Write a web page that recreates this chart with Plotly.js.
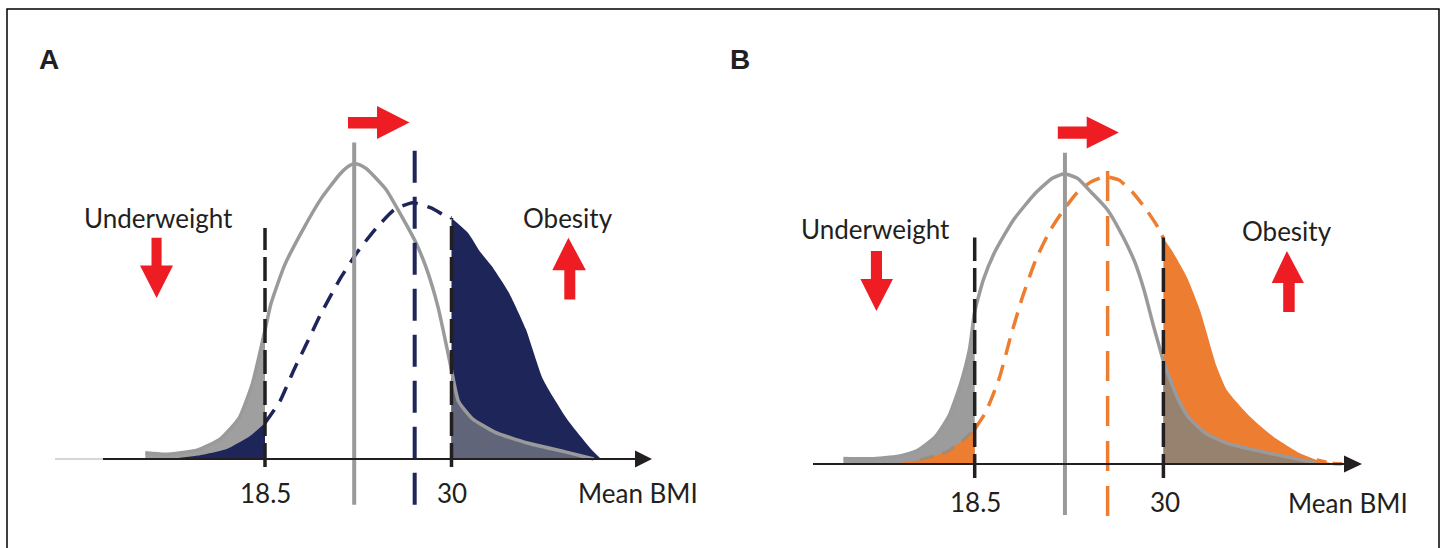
<!DOCTYPE html>
<html>
<head>
<meta charset="utf-8">
<script src="https://cdn.plot.ly/plotly-3.0.1.min.js"></script>
<style>html,body{margin:0;padding:0;background:#fff;}#chart{width:1444px;height:548px;}</style>
</head>
<body>
<div id="chart"></div>
<script>
// ---------- DATA ----------
// Panel A: baseline distribution (grey) and shifted distribution (navy)
const greyA_bmi = [11.12, 12.35, 14.32, 15.73, 16.90, 17.73, 18.5, 18.87, 19.71, 20.84, 21.94, 23.11, 23.55, 23.94, 24.35, 24.77, 25.94, 27.05, 27.75, 28.46, 29.17, 29.73, 30.0, 30.43, 31.29, 32.70, 34.67, 36.95, 38.77];
const greyA_den = [0.021, 0.016, 0.030, 0.067, 0.138, 0.256, 0.435, 0.525, 0.655, 0.775, 0.878, 0.962, 0.985, 0.997, 0.994, 0.980, 0.912, 0.808, 0.737, 0.643, 0.513, 0.372, 0.300, 0.195, 0.136, 0.090, 0.054, 0.025, 0.0];
const navyA_bmi = [11.86, 12.84, 14.50, 16.14, 17.58, 18.5, 19.42, 20.28, 21.12, 21.94, 23.11, 24.22, 25.36, 26.49, 27.60, 28.74, 29.73, 30.0, 31.01, 31.75, 32.49, 33.54, 34.59, 35.64, 37.12, 38.60, 39.22];
const navyA_den = [0.0, 0.002, 0.013, 0.034, 0.078, 0.122, 0.195, 0.301, 0.396, 0.490, 0.607, 0.701, 0.780, 0.843, 0.866, 0.848, 0.818, 0.814, 0.764, 0.701, 0.651, 0.562, 0.438, 0.269, 0.135, 0.034, 0.0];
// Panel B: baseline distribution (grey) and shifted distribution (orange)
const greyB_bmi = [10.50, 12.17, 13.86, 14.97, 16.09, 16.93, 17.63, 18.18, 18.5, 19.03, 19.73, 20.85, 22.25, 23.23, 23.95, 24.76, 25.60, 26.59, 27.56, 28.26, 28.82, 29.38, 29.80, 30.0, 30.78, 31.48, 32.60, 34.00, 36.80, 39.32];
const greyB_den = [0.019, 0.018, 0.027, 0.045, 0.093, 0.165, 0.274, 0.394, 0.525, 0.635, 0.731, 0.840, 0.936, 0.984, 1.0, 0.984, 0.936, 0.876, 0.780, 0.695, 0.599, 0.479, 0.394, 0.355, 0.238, 0.165, 0.105, 0.069, 0.033, 0.003];
const orangeB_bmi = [11.92, 13.34, 15.17, 16.79, 17.80, 18.5, 19.17, 20.01, 20.71, 21.41, 22.25, 23.09, 23.93, 24.76, 25.60, 26.45, 27.29, 28.12, 28.96, 29.66, 30.0, 30.50, 31.42, 32.23, 33.25, 33.86, 35.28, 36.70, 38.32, 39.34, 40.35, 42.08];
const orangeB_den = [0.0, 0.0, 0.014, 0.042, 0.083, 0.12, 0.178, 0.298, 0.443, 0.575, 0.707, 0.804, 0.876, 0.936, 0.972, 0.990, 0.978, 0.936, 0.876, 0.816, 0.778, 0.737, 0.645, 0.530, 0.335, 0.255, 0.163, 0.094, 0.037, 0.014, 0.002, 0.0];
// cut-offs and means
const cutoffs = [18.5, 30];
const cutoffLabels = ['18.5', '30'];
const meansA = [24.0, 27.73];   // [original mean, shifted mean]
const meansB = [24.0, 26.6];
const axisLabel = 'Mean BMI';
const panelLabels = ['A', 'B'];
const riskLabels = ['Underweight', 'Obesity'];

// ---------- helpers ----------
function part(xs, ys, lo, hi) {
  const x = [], y = [];
  xs.forEach((v, i) => { if (v >= lo && v <= hi) { x.push(v); y.push(ys[i]); } });
  return {x, y};
}
const W = 1444, H = 548;
const P = (x, y) => (x / W).toFixed(5) + ',' + (1 - y / H).toFixed(5);
function poly(pts) { return 'M' + pts.map(p => P(p[0], p[1])).join('L') + 'Z'; }

const NAVY = '#1e2559', ORANGE = '#ed7d31', GREY = '#9a9a9a', RED = '#ee1d23', INK = '#231f20';

function fillTrace(d, color, xa, ya) {
  return {x: d.x, y: d.y, xaxis: xa, yaxis: ya, type: 'scatter', mode: 'lines',
    fill: 'tozeroy', fillcolor: color, line: {width: 0, color: color, shape: 'spline', smoothing: 0.5}, hoverinfo: 'skip'};
}
function lineTrace(d, color, width, dash, xa, ya) {
  return {x: d.x, y: d.y, xaxis: xa, yaxis: ya, type: 'scatter', mode: 'lines',
    line: {width: width, color: color, dash: dash, shape: 'spline', smoothing: 0.5}, hoverinfo: 'skip'};
}

const lo = cutoffs[0], hi = cutoffs[1];
const traces = [
  // Panel A
  fillTrace(part(greyA_bmi, greyA_den, -1, lo), '#9f9f9f', 'x', 'y'),
  fillTrace(part(navyA_bmi, navyA_den, -1, lo), NAVY, 'x', 'y'),
  fillTrace(part(navyA_bmi, navyA_den, hi, 99), NAVY, 'x', 'y'),
  fillTrace(part(greyA_bmi, greyA_den, hi, 99), '#606579', 'x', 'y'),
  lineTrace(part(navyA_bmi, navyA_den, lo, hi), NAVY, 3.5, '16px,10px', 'x', 'y'),
  lineTrace(part(greyA_bmi, greyA_den, -1, 99), GREY, 3.5, 'solid', 'x', 'y'),
  // Panel B
  fillTrace(part(greyB_bmi, greyB_den, -1, lo), '#9c9c9c', 'x2', 'y2'),
  fillTrace(part(orangeB_bmi, orangeB_den, -1, lo), ORANGE, 'x2', 'y2'),
  lineTrace(part(orangeB_bmi, orangeB_den, 15, lo), 'rgba(160,138,118,0.9)', 3, '14px,9px', 'x2', 'y2'),
  fillTrace(part(orangeB_bmi, orangeB_den, hi, 40.4), ORANGE, 'x2', 'y2'),
  fillTrace(part(greyB_bmi, greyB_den, hi, 99), '#97826f', 'x2', 'y2'),
  lineTrace(part(orangeB_bmi, orangeB_den, lo, hi), ORANGE, 3.5, '17px,10px', 'x2', 'y2'),
  lineTrace(part(orangeB_bmi, orangeB_den, 39.3, 99), ORANGE, 3.5, '10px,6px', 'x2', 'y2'),
  lineTrace(part(greyB_bmi, greyB_den, -1, 99), GREY, 3.5, 'solid', 'x2', 'y2')
];

// ---------- shapes ----------
const shapes = [];
function vline(xa, ya, x, y0, y1, color, width, dash) {
  shapes.push({type: 'line', xref: xa, yref: ya, x0: x, x1: x, y0: y0, y1: y1, layer: 'above',
    line: {color: color, width: width, dash: dash}});
}
// Panel A verticals
vline('x', 'y', meansA[0], -0.155, 1.069, '#9a9a9a', 4, 'solid');
vline('x', 'y', meansA[1], -0.155, 1.041, NAVY, 4, '32px,14px');
vline('x', 'y', cutoffs[0], -0.027, 0.780, INK, 3.5, '24px,7px');
vline('x', 'y', cutoffs[1], -0.027, 0.814, INK, 3.5, '24px,7px');
// Panel B verticals
vline('x2', 'y2', meansB[0], -0.176, 1.072, '#9a9a9a', 4, 'solid');
vline('x2', 'y2', meansB[1], -0.179, 1.041, ORANGE, 3.5, '30px,15px');
vline('x2', 'y2', cutoffs[0], -0.048, 0.780, INK, 3.5, '24px,7px');
vline('x2', 'y2', cutoffs[1], -0.048, 0.780, INK, 3.5, '24px,7px');

// x axes with arrow heads (paper coords)
shapes.push({type: 'line', xref: 'paper', yref: 'paper', x0: 55 / W, x1: 103 / W, y0: 1 - 459 / H, y1: 1 - 459 / H, layer: 'above', line: {color: '#c8c8c8', width: 1.5}});
shapes.push({type: 'line', xref: 'paper', yref: 'paper', x0: 103 / W, x1: 637 / W, y0: 1 - 459 / H, y1: 1 - 459 / H, layer: 'above', line: {color: INK, width: 2}});
shapes.push({type: 'path', xref: 'paper', yref: 'paper', layer: 'above', path: poly([[635, 450.5], [652, 459], [635, 467.5]]), fillcolor: INK, line: {width: 0}});
shapes.push({type: 'line', xref: 'paper', yref: 'paper', x0: 813 / W, x1: 1345 / W, y0: 1 - 464 / H, y1: 1 - 464 / H, layer: 'above', line: {color: INK, width: 2}});
shapes.push({type: 'path', xref: 'paper', yref: 'paper', layer: 'above', path: poly([[1344, 455.4], [1362, 464], [1344, 472.6]]), fillcolor: INK, line: {width: 0}});

// red arrows
function redArrow(pts) { shapes.push({type: 'path', xref: 'paper', yref: 'paper', layer: 'above', path: poly(pts), fillcolor: RED, line: {width: 0}}); }
// A
redArrow([[348, 117], [377, 117], [377, 106], [409.5, 122.5], [377, 139], [377, 128.5], [348, 128.5]]);
redArrow([[151.5, 237.7], [161.6, 237.7], [161.6, 265.6], [173, 265.6], [156.6, 298], [140, 265.6], [151.5, 265.6]]);
redArrow([[568.4, 237.7], [585.9, 270.2], [575.3, 270.2], [575.3, 299.5], [564.3, 299.5], [564.3, 270.2], [552.3, 270.2]]);
// B
redArrow([[1057.8, 126.5], [1086.7, 126.5], [1086.7, 116.4], [1118.9, 132.5], [1086.7, 148.5], [1086.7, 138.8], [1057.8, 138.8]]);
redArrow([[870.9, 251], [882, 251], [882, 279], [893, 279], [876.4, 311], [860.4, 279], [870.9, 279]]);
redArrow([[1286.9, 251], [1303.9, 283], [1294.7, 283], [1294.7, 312], [1283.2, 312], [1283.2, 283], [1271.7, 283]]);

// frame
shapes.push({type: 'rect', xref: 'paper', yref: 'paper', x0: 7 / W, x1: 1439 / W, y0: -0.05, y1: 1 - 9 / H, layer: 'above', line: {color: '#000', width: 1.5}});

// ---------- annotations ----------
const FONT = 'Lato, "Open Sans", sans-serif';
function txt(text, x, y, size, bold) {
  return {text: bold ? '<b>' + text + '</b>' : text, xref: 'paper', yref: 'paper', x: x / W, y: 1 - y / H,
    xanchor: 'center', yanchor: 'middle', showarrow: false,
    font: {family: bold ? '"Liberation Sans", Arial, sans-serif' : FONT, size: size, color: INK}};
}
const annotations = [
  txt(panelLabels[0], 49, 59, 28, true),
  txt(panelLabels[1], 740, 59, 28, true),
  txt(riskLabels[0], 158, 218, 26),
  txt(riskLabels[1], 568, 218, 26),
  txt(cutoffLabels[0], 265, 492.5, 26),
  txt(cutoffLabels[1], 451.5, 492.5, 26),
  txt(axisLabel, 637.5, 492.5, 26),
  txt(riskLabels[0], 875.5, 229, 26),
  txt(riskLabels[1], 1286.5, 230.5, 26),
  txt(cutoffLabels[0], 975, 502, 26),
  txt(cutoffLabels[1], 1165, 502, 26),
  txt(axisLabel, 1347.5, 502.5, 26)
];

const hidden = {visible: false, showgrid: false, zeroline: false, fixedrange: true};
const layout = {
  width: W, height: H, margin: {l: 0, r: 0, t: 0, b: 0},
  paper_bgcolor: '#fff', plot_bgcolor: 'rgba(0,0,0,0)', showlegend: false,
  xaxis: Object.assign({domain: [0, 0.5], range: [2.159, 46.68], anchor: 'y'}, hidden),
  yaxis: Object.assign({domain: [0, 1], range: [-0.3007, 1.5507], anchor: 'x'}, hidden),
  xaxis2: Object.assign({domain: [0.5, 1], range: [3.10, 47.10], anchor: 'y2'}, hidden),
  yaxis2: Object.assign({domain: [0, 1], range: [-0.2894, 1.5983], anchor: 'x2'}, hidden),
  shapes: shapes, annotations: annotations
};
Plotly.newPlot('chart', traces, layout, {staticPlot: true, displayModeBar: false});
</script>
</body>
</html>
